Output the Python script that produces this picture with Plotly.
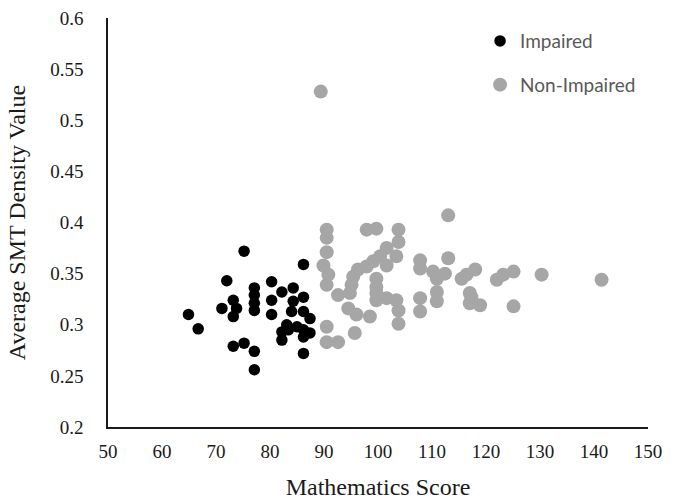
import plotly.graph_objects as go

# Impaired group (black)
imp_x = [75.2, 86.2, 72.0, 80.3, 77.1, 84.3, 82.2, 77.1, 80.3, 86.2, 73.2, 84.3, 77.1,
         71.1, 73.8, 77.1, 86.2, 73.2, 80.3, 87.4, 64.9, 66.7, 83.1, 85.0, 82.2, 83.4,
         86.2, 87.4, 82.2, 86.2, 73.2, 75.2, 77.1, 86.2, 77.1, 84.0]
imp_y = [0.372, 0.359, 0.343, 0.342, 0.336, 0.336, 0.332, 0.329, 0.324, 0.327, 0.324, 0.323, 0.321,
         0.316, 0.316, 0.314, 0.313, 0.308, 0.310, 0.306, 0.310, 0.296, 0.300, 0.298, 0.293, 0.295,
         0.295, 0.292, 0.285, 0.288, 0.279, 0.282, 0.274, 0.272, 0.256, 0.313]

# Non-impaired group (gray)
non_x = [113.0, 90.5, 90.5, 97.9, 99.7, 103.8, 103.8, 101.6, 90.5, 100.4, 103.4, 99.1, 101.6,
         97.9, 107.8, 113.0, 89.9, 96.3, 107.8, 110.2, 112.4, 90.8, 95.4, 110.9, 116.4, 118.0,
         115.5, 99.7, 90.5, 95.1, 99.7, 92.6, 94.8, 99.7, 101.6, 103.4, 110.9, 110.9, 107.8,
         117.0, 117.0, 118.9, 99.7, 94.5, 96.0, 98.5, 103.8, 103.8, 107.8, 90.5, 95.7, 90.5,
         92.6, 89.4, 122.0, 123.2, 125.1, 130.3, 141.4, 117.3, 125.1]
non_y = [0.407, 0.393, 0.385, 0.393, 0.394, 0.393, 0.381, 0.375, 0.371, 0.367, 0.367, 0.362, 0.358,
         0.357, 0.363, 0.365, 0.358, 0.354, 0.355, 0.352, 0.350, 0.349, 0.347, 0.345, 0.349, 0.354,
         0.345, 0.345, 0.339, 0.339, 0.337, 0.329, 0.331, 0.331, 0.326, 0.324, 0.332, 0.323, 0.326,
         0.331, 0.321, 0.319, 0.324, 0.316, 0.310, 0.308, 0.314, 0.301, 0.313, 0.298, 0.292, 0.283,
         0.283, 0.528, 0.344, 0.349, 0.352, 0.349, 0.344, 0.327, 0.318]

x_ticks = [50, 60, 70, 80, 90, 100, 110, 120, 130, 140, 150]
y_ticks = [0.2, 0.25, 0.3, 0.35, 0.4, 0.45, 0.5, 0.55, 0.6]
y_tick_text = ["0.2", "0.25", "0.3", "0.35", "0.4", "0.45", "0.5", "0.55", "0.6"]

fig = go.Figure()
fig.add_trace(go.Scatter(x=imp_x, y=imp_y, mode="markers", name="Impaired",
                         legendgroup="a",
                         marker=dict(color="#000000", size=11.5, line=dict(width=0))))
fig.add_trace(go.Scatter(x=non_x, y=non_y, mode="markers", name="Non-Impaired",
                         legendgroup="b",
                         marker=dict(color="#A6A6A6", size=14, line=dict(width=0))))

serif = "Liberation Serif, Times New Roman, serif"
fig.update_layout(
    width=688, height=500,
    margin=dict(l=108, r=40, t=18, b=73),
    paper_bgcolor="white", plot_bgcolor="white",
    font=dict(family=serif, size=19, color="#1a1a1a"),
    legend=dict(x=0.689, y=0.99, xanchor="left", yanchor="top",
                traceorder="grouped", tracegroupgap=16,
                font=dict(family="Lato, sans-serif", size=19, color="#595959"),
                itemwidth=30, bgcolor="rgba(0,0,0,0)"),
    xaxis=dict(range=[50, 150], tickvals=x_ticks, showgrid=False, zeroline=False,
               showline=True, linecolor="#1a1a1a", linewidth=1.6, ticks="",
               ticklabelstandoff=6, automargin=False,
               title=dict(text="Mathematics Score", font=dict(family=serif, size=24), standoff=21)),
    yaxis=dict(range=[0.2, 0.6], tickvals=y_ticks, ticktext=y_tick_text, showgrid=False,
               zeroline=False, showline=True, linecolor="#1a1a1a", linewidth=1.6, ticks="",
               ticklabelstandoff=19, automargin=False,
               title=dict(text="Average SMT Density Value", font=dict(family=serif, size=24), standoff=18)),
)

fig.write_html("out.html", config={"displayModeBar": False},
               post_script="document.body.style.margin='0';")
